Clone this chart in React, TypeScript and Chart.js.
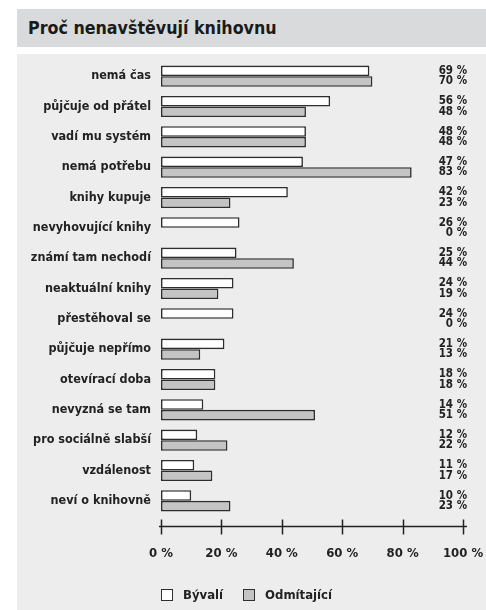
import React, { useEffect, useRef } from "react";
import { Chart, registerables } from "chart.js";

Chart.register(...registerables);

const title = "Proč nenavštěvují knihovnu";
const categories = [
  "nemá čas",
  "půjčuje od přátel",
  "vadí mu systém",
  "nemá potřebu",
  "knihy kupuje",
  "nevyhovující knihy",
  "známí tam nechodí",
  "neaktuální knihy",
  "přestěhoval se",
  "půjčuje nepřímo",
  "otevírací doba",
  "nevyzná se tam",
  "pro sociálně slabší",
  "vzdálenost",
  "neví o knihovně",
];
const byvali = [69, 56, 48, 47, 42, 26, 25, 24, 24, 21, 18, 14, 12, 11, 10];
const odmitajici = [70, 48, 48, 83, 23, 0, 44, 19, 0, 13, 18, 51, 22, 17, 23];
const seriesNames = ["Bývalí", "Odmítající"];
const xTicks = [0, 20, 40, 60, 80, 100];

const FONT = "'DejaVu Sans Condensed', 'Liberation Sans Narrow', Roboto, sans-serif";
const TEXT = "#222222";
const EDGE = "#2e2e2e";
const GREY = "#c4c4c4";

const overlay = {
  id: "overlay",
  afterDatasetsDraw(chart: any) {
    const { ctx, chartArea } = chart;
    const xs = chart.scales.x;
    ctx.save();
    ctx.font = `bold 11.5px ${FONT}`;
    ctx.fillStyle = TEXT;
    ctx.textAlign = "right";
    ctx.textBaseline = "middle";
    chart.data.datasets.forEach((ds: any, i: number) => {
      const meta = chart.getDatasetMeta(i);
      meta.data.forEach((el: any, j: number) => {
        ctx.fillText(ds.data[j] + " %", chartArea.right + 4, el.y);
      });
    });
    const y = chartArea.bottom + 10.5;
    ctx.strokeStyle = TEXT;
    ctx.lineWidth = 1.5;
    ctx.beginPath();
    ctx.moveTo(xs.getPixelForValue(0) - 2, y);
    ctx.lineTo(xs.getPixelForValue(100) + 4, y);
    ctx.stroke();
    xTicks.forEach((v) => {
      const x = Math.round(xs.getPixelForValue(v)) + 0.5;
      ctx.beginPath();
      ctx.moveTo(x, y - 7);
      ctx.lineTo(x, y + 8);
      ctx.stroke();
    });
    ctx.restore();
  },
};

export default function App() {
  const ref = useRef<HTMLCanvasElement | null>(null);
  useEffect(() => {
    if (!ref.current) return;
    const chart = new Chart(ref.current, {
      type: "bar",
      data: {
        labels: categories,
        datasets: [
          {
            label: seriesNames[0],
            data: byvali,
            backgroundColor: "#ffffff",
            borderColor: EDGE,
            borderWidth: (c: any) => (c.raw === 0 ? 0 : 1.6),
            borderSkipped: false,
          },
          {
            label: seriesNames[1],
            data: odmitajici,
            backgroundColor: GREY,
            borderColor: EDGE,
            borderWidth: (c: any) => (c.raw === 0 ? 0 : 1.6),
            borderSkipped: false,
          },
        ],
      },
      options: {
        indexAxis: "y",
        responsive: false,
        animation: false,
        devicePixelRatio: 1,
        layout: { padding: { left: 0, right: 23, top: 7, bottom: 0 } },
        datasets: { bar: { categoryPercentage: 0.7, barPercentage: 1 } },
        plugins: { legend: { display: false }, tooltip: { enabled: false } },
        scales: {
          x: {
            min: 0,
            max: 100,
            afterFit: (s: any) => {
              s.height = 94;
              s.paddingLeft = 0;
              s.paddingRight = 0;
            },
            afterBuildTicks: (s: any) => {
              s.ticks = xTicks.map((v) => ({ value: v }));
            },
            grid: { display: false, drawTicks: false },
            border: { display: false },
            ticks: {
              padding: 30,
              color: TEXT,
              font: { family: FONT, size: 13, weight: "bold" },
              callback: (v: any) => v + " %",
            },
          },
          y: {
            afterFit: (s: any) => {
              s.width = 144;
              s.paddingTop = 0;
              s.paddingBottom = 0;
            },
            grid: { display: false, drawTicks: false },
            border: { display: false },
            ticks: {
              padding: 10,
              color: TEXT,
              font: { family: FONT, size: 12.5, weight: "bold" },
            },
          },
        },
      },
      plugins: [overlay],
    } as any);
    return () => chart.destroy();
  }, []);

  const box = (bg: string) => ({
    display: "inline-block",
    width: 12,
    height: 12,
    border: `1.5px solid ${EDGE}`,
    background: bg,
    boxSizing: "border-box" as const,
    marginRight: 10,
    verticalAlign: "middle",
  });

  return (
    <div style={{ position: "absolute", left: 0, top: 0, width: 486, height: 610, overflow: "hidden" }}>
      <div
        style={{
          position: "absolute",
          left: 17,
          top: 9,
          width: 469,
          height: 38,
          background: "#d9dadb",
          fontFamily: FONT,
          fontWeight: "bold",
          fontSize: 17.7,
          color: "#1a1a1a",
          lineHeight: "38px",
          paddingLeft: 11,
          boxSizing: "border-box",
        }}
      >
        {title}
      </div>
      <div style={{ position: "absolute", left: 17, top: 54, width: 469, height: 556, background: "#ecedec" }}>
        <canvas ref={ref} width={469} height={556} style={{ width: 469, height: 556, display: "block" }} />
        <div
          style={{
            position: "absolute",
            left: 144,
            top: 532,
            fontFamily: FONT,
            fontWeight: "bold",
            fontSize: 13,
            color: TEXT,
            whiteSpace: "nowrap",
            lineHeight: "16px",
          }}
        >
          <span style={box("#ffffff")} />
          <span style={{ verticalAlign: "middle", marginRight: 20 }}>{seriesNames[0]}</span>
          <span style={box(GREY)} />
          <span style={{ verticalAlign: "middle" }}>{seriesNames[1]}</span>
        </div>
      </div>
    </div>
  );
}
